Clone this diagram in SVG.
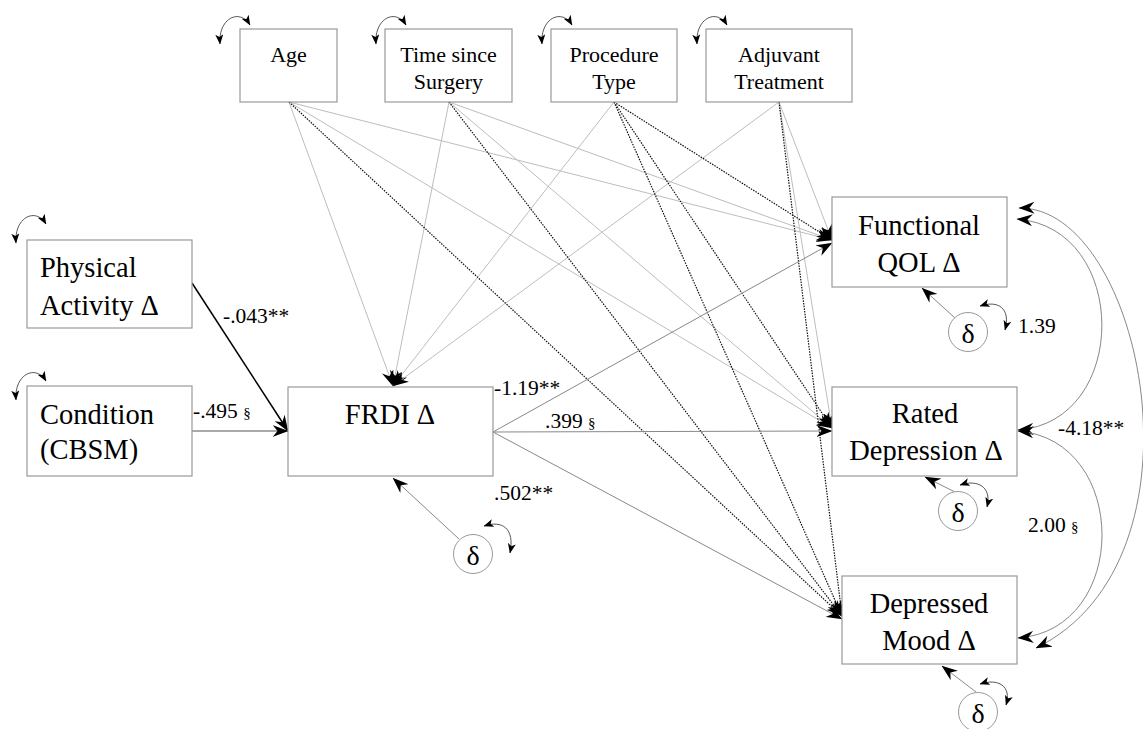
<svg xmlns="http://www.w3.org/2000/svg" width="1143" height="729" viewBox="0 0 1143 729">
<style>
.box{fill:#fff;stroke:#999;stroke-width:1.2}
.t{font-family:"Liberation Serif","Times New Roman",serif;fill:#000}
.tb{font-size:22px;text-anchor:middle}
.tl{font-size:28.5px}
.tc{font-size:28.5px;text-anchor:middle}
.lab{font-size:21.5px}
.sec{font-size:15px}
.g{stroke:#bdbdbd;stroke-width:1;fill:none}
.d{stroke:#111;stroke-width:1.2;stroke-dasharray:1.5 1.2;fill:none}
.m{stroke:#888;stroke-width:1;fill:none}
.cv{stroke:#888;stroke-width:1;fill:none}
.lp{stroke:#555;stroke-width:1;fill:none}
.circ{fill:#fff;stroke:#999;stroke-width:1}
</style>
<defs>
<marker id="ah" viewBox="0 0 16 12" refX="15.5" refY="6" markerWidth="16" markerHeight="12" markerUnits="userSpaceOnUse" orient="auto-start-reverse"><path d="M0,0 L16,6 L0,12 L5,6 z" fill="#000"/></marker>
<marker id="as" viewBox="0 0 10 8" refX="9.5" refY="4" markerWidth="10" markerHeight="8" markerUnits="userSpaceOnUse" orient="auto-start-reverse"><path d="M0,0 L10,4 L0,8 L2.5,4 z" fill="#000"/></marker>
</defs>

<g id="connectors">
<g marker-end="url(#ah)">
<line class="g" x1="289" y1="102" x2="393" y2="386"/>
<line class="g" x1="289" y1="102" x2="832" y2="240"/>
<line class="g" x1="289" y1="102" x2="832" y2="428"/>
<line class="g" x1="449" y1="102" x2="393" y2="386"/>
<line class="g" x1="449" y1="102" x2="832" y2="240"/>
<line class="g" x1="449" y1="102" x2="832" y2="428"/>
<line class="g" x1="614" y1="102" x2="393" y2="386"/>
<line class="g" x1="779" y1="102" x2="393" y2="386"/>
<line class="g" x1="779" y1="102" x2="832" y2="240"/>
<line class="g" x1="779" y1="102" x2="832" y2="428"/>
<line class="d" x1="289" y1="102" x2="842" y2="616"/>
<line class="d" x1="449" y1="102" x2="842" y2="616"/>
<line class="d" x1="614" y1="102" x2="832" y2="240"/>
<line class="d" x1="614" y1="102" x2="832" y2="428"/>
<line class="d" x1="614" y1="102" x2="842" y2="616"/>
<line class="d" x1="779" y1="102" x2="842" y2="616"/>
<line x1="192" y1="283" x2="288" y2="431" stroke="#000" stroke-width="1.5"/>
<line x1="192" y1="431" x2="288" y2="431" stroke="#555" stroke-width="1"/>
<line class="m" x1="493" y1="432" x2="832" y2="243"/>
<line class="m" x1="493" y1="432" x2="832" y2="431"/>
<line class="m" x1="493" y1="432" x2="842" y2="619"/>
<line class="m" x1="459" y1="539" x2="393" y2="478"/>
<line class="m" x1="955" y1="318" x2="922" y2="288"/>
<line class="m" x1="955" y1="492" x2="925" y2="477"/>
<line class="m" x1="976" y1="692" x2="942" y2="666"/>
</g>
<g marker-start="url(#ah)" marker-end="url(#ah)">
<path class="cv" d="M1019,208 C1142,206 1216,560 1036,648"/>
<path class="cv" d="M1017,219 C1130,228 1130,422 1018,430"/>
<path class="cv" d="M1018,431 C1130,440 1130,630 1018,638"/>
</g>
<g marker-start="url(#as)" marker-end="url(#as)">
<path class="lp" d="M220,44 C218,18 240,8 250,25"/>
<path class="lp" d="M376,44 C374,18 396,8 406,25"/>
<path class="lp" d="M542,44 C540,18 562,8 572,25"/>
<path class="lp" d="M697,44 C695,18 717,8 727,25"/>
<path class="lp" d="M16,243 C14,217 36,207 46,224"/>
<path class="lp" d="M16,400 C14,374 36,364 46,381"/>
<path class="lp" d="M484,526 C502,520 515,528 510,553"/>
<path class="lp" d="M980,306 C998,300 1011,308 1005,330"/>
<path class="lp" d="M960,485 C978,479 992,487 987,507"/>
<path class="lp" d="M980,684 C998,678 1012,686 1006,705"/>
</g>
</g>

<g id="age"><rect class="box" x="240" y="29" width="97" height="73"/><text class="t tb" x="288.5" y="62">Age</text></g>
<g id="time"><rect class="box" x="385" y="29" width="127" height="73"/><text class="t tb" x="448.5" y="62">Time since</text><text class="t tb" x="448.5" y="89">Surgery</text></g>
<g id="procedure"><rect class="box" x="551" y="29" width="126" height="73"/><text class="t tb" x="614" y="62">Procedure</text><text class="t tb" x="614" y="89">Type</text></g>
<g id="adjuvant"><rect class="box" x="706" y="29" width="146" height="73"/><text class="t tb" x="779" y="62">Adjuvant</text><text class="t tb" x="779" y="89">Treatment</text></g>

<g id="physical"><rect class="box" x="27" y="240" width="165" height="88"/><text class="t tl" x="40" y="277">Physical</text><text class="t tl" x="40" y="315">Activity Δ</text></g>
<g id="condition"><rect class="box" x="27" y="386" width="165" height="90"/><text class="t tl" x="40" y="424">Condition</text><text class="t tl" x="40" y="459">(CBSM)</text></g>

<g id="frdi"><rect class="box" x="288" y="387" width="205" height="89"/><text class="t tc" x="390" y="424">FRDI Δ</text></g>
<g id="fqol"><rect class="box" x="832" y="197" width="175" height="90"/><text class="t tc" x="919" y="235">Functional</text><text class="t tc" x="919" y="272">QOL Δ</text></g>
<g id="rd"><rect class="box" x="832" y="387" width="185" height="89"/><text class="t tc" x="925" y="423">Rated</text><text class="t tc" x="926" y="460">Depression Δ</text></g>
<g id="dm"><rect class="box" x="842" y="576" width="175" height="88"/><text class="t tc" x="929" y="613">Depressed</text><text class="t tc" x="929" y="650">Mood Δ</text></g>

<g id="e-frdi"><circle class="circ" cx="473" cy="554" r="19.5"/><text class="t tc" x="473" y="565" style="font-size:28px">δ</text></g>
<g id="e-fqol"><circle class="circ" cx="968" cy="332" r="19.5"/><text class="t tc" x="968" y="343" style="font-size:28px">δ</text></g>
<g id="e-rd"><circle class="circ" cx="958" cy="511" r="19.5"/><text class="t tc" x="958" y="522" style="font-size:28px">δ</text></g>
<g id="e-dm"><circle class="circ" cx="978" cy="712" r="19.5"/><text class="t tc" x="978" y="723" style="font-size:28px">δ</text></g>

<g id="labels">
<text class="t lab" x="223" y="323">-.043**</text>
<text class="t lab" x="193" y="418">-.495 <tspan class="sec">§</tspan></text>
<text class="t lab" x="494" y="395">-1.19**</text>
<text class="t lab" x="545" y="428">.399 <tspan class="sec">§</tspan></text>
<text class="t lab" x="494" y="500">.502**</text>
<text class="t lab" x="1018" y="333">1.39</text>
<text class="t lab" x="1058" y="435">-4.18**</text>
<text class="t lab" x="1028" y="532">2.00 <tspan class="sec">§</tspan></text>
</g>
</svg>
